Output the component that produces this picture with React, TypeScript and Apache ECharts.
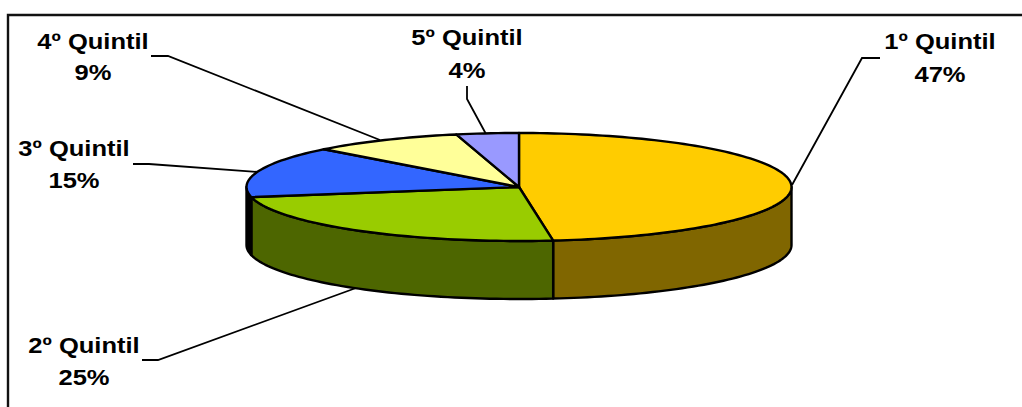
import React, { useEffect, useRef } from "react";
import * as echarts from "echarts";

const categories = ["1º Quintil", "2º Quintil", "3º Quintil", "4º Quintil", "5º Quintil"];
const printedPercents = [47, 25, 15, 9, 4];
// slice sizes as measured on the drawn pie (its perspective widens the front slices)
const sliceShares = [48.0, 24.0, 15.3, 9.0, 3.7];
const topColors = ["#ffcc00", "#99cc00", "#3366ff", "#ffff99", "#9999ff"];
const sideColors = ["#806600", "#4d6600", "#000000", "#808040", "#4d4d80"];

const PIE = { cx: 519, cy: 187, rx: 272.5, ry: 54, depth: 58 };
const LABELS = [
  { x: 940, y1: 41, y2: 74, lead: [[880, 58], [862, 58], [792, 185]] },
  { x: 84, y1: 345, y2: 377, lead: [[142, 360], [158, 360], [356, 288]] },
  { x: 74, y1: 148, y2: 180, lead: [[133, 164], [149, 164], [258, 172]] },
  { x: 93, y1: 41, y2: 72, lead: [[151, 56], [168, 56], [380, 140]] },
  { x: 467, y1: 37, y2: 70, lead: [[467, 86], [467, 99], [486, 134]] },
];
const FONT = 'bold 22px "Liberation Sans", Arial, sans-serif';
const TEXT_STRETCH = 1.16;

const total = sliceShares.reduce((a, b) => a + b, 0);
const ranges: number[][] = [];
let acc = 0;
sliceShares.forEach((s) => {
  const start = (acc / total) * 360;
  acc += s;
  ranges.push([start, (acc / total) * 360]);
});

const pt = (deg: number, dy = 0) => {
  const r = (deg * Math.PI) / 180;
  return [PIE.cx + PIE.rx * Math.sin(r), PIE.cy - PIE.ry * Math.cos(r) + dy];
};
const arc = (a: number, b: number, dy = 0) => {
  const out: number[][] = [];
  const n = Math.max(2, Math.ceil((b - a) / 1.5));
  for (let i = 0; i <= n; i++) out.push(pt(a + ((b - a) * i) / n, dy));
  return out;
};

const renderSide = (_: any, api: any) => {
  const i = api.value(0);
  const a = Math.max(ranges[i][0], 90);
  const b = Math.min(ranges[i][1], 270);
  if (b <= a) return { type: "group", children: [] };
  return {
    type: "polygon",
    shape: { points: [...arc(a, b), ...arc(a, b, PIE.depth).reverse()] },
    style: { fill: sideColors[i], stroke: "#000", lineWidth: 2.4, lineJoin: "round" },
  };
};

const renderTop = (_: any, api: any) => {
  const i = api.value(0);
  return {
    type: "polygon",
    shape: { points: [[PIE.cx, PIE.cy], ...arc(ranges[i][0], ranges[i][1])] },
    style: { fill: topColors[i], stroke: "#000", lineWidth: 2.4, lineJoin: "round" },
  };
};

const renderLabel = (_: any, api: any) => {
  const i = api.value(0);
  const l = LABELS[i];
  const text = (t: string, y: number) => ({
    type: "text",
    x: l.x,
    y,
    scaleX: TEXT_STRETCH,
    style: { text: t, font: FONT, fill: "#000", align: "center", verticalAlign: "middle" },
  });
  return {
    type: "group",
    children: [
      {
        type: "polyline",
        shape: { points: l.lead },
        style: { fill: "none", stroke: "#000", lineWidth: 1.8 },
      },
      text(categories[i], l.y1),
      text(`${printedPercents[i]}%`, l.y2),
    ],
  };
};

export default function App() {
  const ref = useRef<HTMLDivElement>(null);
  useEffect(() => {
    const chart = echarts.init(ref.current!, null, { renderer: "svg" });
    const idx = categories.map((_, i) => [i]);
    chart.setOption({
      animation: false,
      backgroundColor: "#fff",
      graphic: [
        {
          type: "polyline",
          shape: { points: [[8, 407], [8, 15], [1022, 15]] },
          style: { fill: "none", stroke: "#111", lineWidth: 2.4 },
        },
      ],
      series: [
        { type: "custom", coordinateSystem: "none", renderItem: renderSide, data: idx, z: 2, silent: true },
        { type: "custom", coordinateSystem: "none", renderItem: renderLabel, data: idx, z: 1, silent: true },
        { type: "custom", coordinateSystem: "none", renderItem: renderTop, data: idx, z: 3, silent: true },
      ],
    });
    return () => chart.dispose();
  }, []);
  return <div ref={ref} style={{ position: "fixed", left: 0, top: 0, width: 1022, height: 407 }} />;
}
